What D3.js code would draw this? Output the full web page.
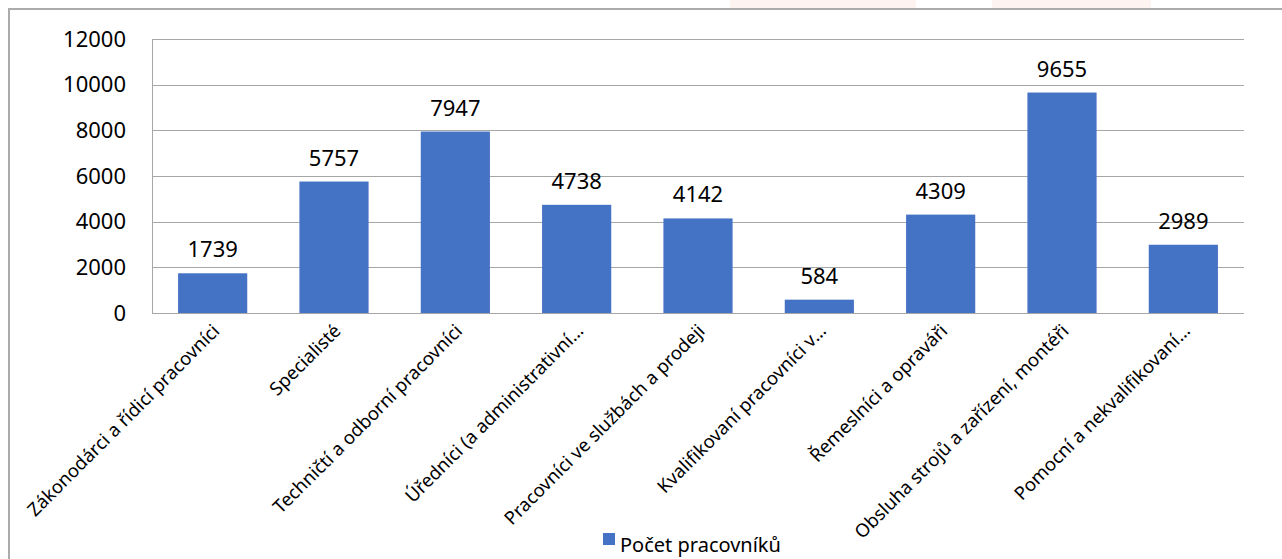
<!DOCTYPE html>
<html><head><meta charset="utf-8">
<script src="https://cdn.jsdelivr.net/npm/d3@7/dist/d3.min.js"></script>
<style>body{margin:0;background:#fff;}svg{display:block;font-family:"Noto Sans",sans-serif;}</style>
</head><body>
<svg id="c" width="1282" height="559"></svg>
<script>
const categories = ["Zákonodárci a řídicí pracovníci","Specialisté","Techničtí a odborní pracovníci","Úředníci (a administrativní…","Pracovníci ve službách a prodeji","Kvalifikovaní pracovníci v…","Řemeslníci a opraváři","Obsluha strojů a zařízení, montéři","Pomocní a nekvalifikovaní…"];
const values = [1739,5757,7947,4738,4142,584,4309,9655,2989];
const yTicks = [0,2000,4000,6000,8000,10000,12000];
const seriesName = "Počet pracovníků";

const svg = d3.select("#c");
svg.append("rect").attr("x",730).attr("y",0).attr("width",186).attr("height",8).attr("fill","#fdf4f1");
svg.append("rect").attr("x",992).attr("y",0).attr("width",159).attr("height",8).attr("fill","#fdf4f1");
svg.append("rect").attr("x",9).attr("y",9).attr("width",1290).attr("height",560)
  .attr("fill","#fff").attr("stroke","#ababab").attr("stroke-width",2);

const L=152, R=1244, T=39, B=313;
const x = d3.scaleBand().domain(categories).range([L,R]).paddingInner(0.43).paddingOuter(0.215);
const y = d3.scaleLinear().domain([0,12000]).range([B,T]);

svg.append("g").selectAll("line").data(yTicks).join("line")
  .attr("x1",L).attr("x2",R).attr("y1",d=>Math.round(y(d))+0.5).attr("y2",d=>Math.round(y(d))+0.5)
  .attr("stroke","#a6a6a6").attr("stroke-width",1);
svg.append("line").attr("x1",L+0.5).attr("x2",L+0.5).attr("y1",T).attr("y2",B+0.5).attr("stroke","#a6a6a6");

const yAxis = d3.axisLeft(y).tickValues(yTicks).tickSize(0).tickPadding(26).tickFormat(d3.format("d"));
const ga = svg.append("g").attr("transform",`translate(${L},0)`).call(yAxis);
ga.select(".domain").remove();
ga.selectAll("text").attr("font-size",22).attr("fill","#000").attr("font-family","Noto Sans");

svg.append("g").selectAll("rect").data(values).join("rect")
  .attr("x",(d,i)=>x(categories[i])).attr("width",x.bandwidth())
  .attr("y",d=>y(d)).attr("height",d=>B-y(d)).attr("fill","#4472C4");

svg.append("g").selectAll("text").data(values).join("text")
  .attr("x",(d,i)=>x(categories[i])+x.bandwidth()/2).attr("y",d=>y(d)-16)
  .attr("text-anchor","middle").attr("font-size",22).attr("fill","#000").text(d=>d);

svg.append("g").selectAll("text").data(categories).join("text")
  .attr("transform",d=>`translate(${x(d)+x.bandwidth()/2+8},${B+19}) rotate(-45)`)
  .attr("text-anchor","end").attr("font-size",18.5).attr("fill","#000").text(d=>d);

const lg = svg.append("g");
lg.append("rect").attr("x",603).attr("y",533).attr("width",12).attr("height",12).attr("fill","#4472C4");
lg.append("text").attr("x",620).attr("y",552).attr("font-size",20).attr("fill","#000").text(seriesName);
</script>
</body></html>
